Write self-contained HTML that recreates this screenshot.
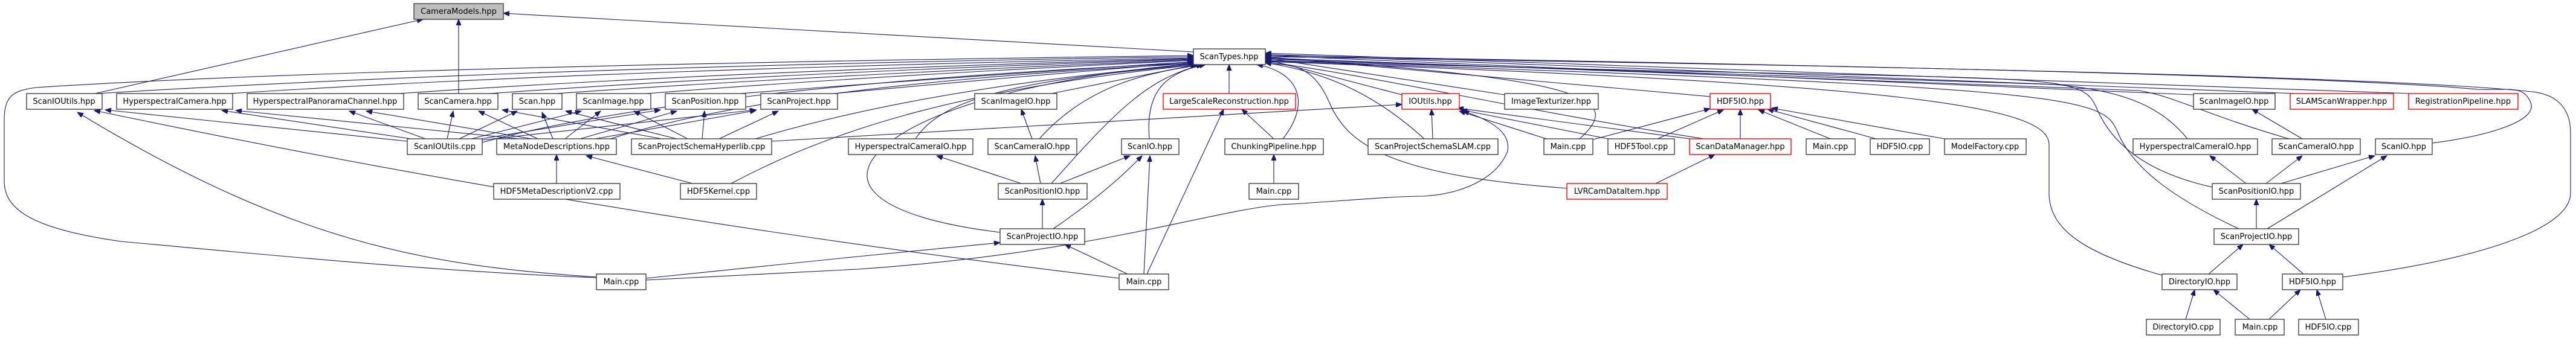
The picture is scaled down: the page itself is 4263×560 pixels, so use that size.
<!DOCTYPE html>
<html><head><meta charset="utf-8"><style>
html,body{margin:0;padding:0;background:#fff;}
svg{display:block;}
.e{fill:none;stroke:#191970;stroke-width:1.1;marker-end:url(#a);}
.n{fill:#fff;stroke:#404040;stroke-width:1.4;}
.r{fill:#fff;stroke:#ff0000;stroke-width:1.4;}
.g{fill:#bfbfbf;stroke:#404040;stroke-width:1.4;}
text{font-family:"DejaVu Sans","Liberation Sans",sans-serif;font-size:13px;fill:#000;text-anchor:middle;}
</style></head><body>
<svg width="4263" height="560" viewBox="0 0 4263 560" xmlns="http://www.w3.org/2000/svg">
<defs><marker id="a" markerUnits="userSpaceOnUse" markerWidth="11" markerHeight="8" refX="10" refY="4" orient="auto"><path d="M0,0 L10,4 L0,8 z" fill="#191970" stroke="#191970"/></marker></defs>
<g>
<path class="e" d="M1975,86 L833,22"/>
<path class="e" d="M157,155 L700,32"/>
<path class="e" d="M759,155 L759,32"/>
<path class="e" d="M160,155 Q900,110 1975,94"/>
<path class="e" d="M380,155 Q1000,115 1975,96"/>
<path class="e" d="M660,155 Q1200,118 1975,97"/>
<path class="e" d="M810,155 Q1300,120 1975,98"/>
<path class="e" d="M920,155 Q1350,125 1975,99"/>
<path class="e" d="M1070,155 Q1450,125 1975,100"/>
<path class="e" d="M1225,155 Q1550,130 1975,102"/>
<path class="e" d="M1380,155 Q1650,130 1975,103"/>
<path class="e" d="M1740,155 L1980,107"/>
<path class="e" d="M798,236 C1000,180 1400,130 1978,104"/>
<path class="e" d="M1010,230 C1200,170 1500,130 1980,105"/>
<path class="e" d="M1250,230 C1450,170 1700,130 1982,106"/>
<path class="e" d="M1210,304 C1350,230 1550,150 1985,107"/>
<path class="e" d="M1515,230 C1560,160 1700,130 1988,107"/>
<path class="e" d="M1720,230 C1800,140 1900,120 1992,107"/>
<path class="e" d="M1902,230 C1895,150 1930,120 1995,107"/>
<path class="e" d="M1740,304 C1850,180 1900,130 1990,107"/>
<path class="e" d="M1655,385 C1450,360 1380,300 1480,230 S1800,120 1980,105"/>
<path class="e" d="M987,460 C720,450 420,420 200,400 C60,380 7,350 7,300 L7,200 C7,160 20,150 60,145 Q600,110 1975,92"/>
<path class="e" d="M2034,155 L2034,107"/>
<path class="e" d="M2123,230 C2170,170 2150,120 2080,107"/>
<path class="e" d="M2357,230 C2280,160 2200,120 2094,104"/>
<path class="e" d="M2320,157 L2094,98"/>
<path class="e" d="M2490,157 L2094,96"/>
<path class="e" d="M2614,230 C2680,170 2660,130 2094,96"/>
<path class="e" d="M2593,312 C2300,290 2230,240 2200,170 S2130,110 2094,104"/>
<path class="e" d="M2830,160 L2094,94"/>
<path class="e" d="M2820,230 C2500,180 2300,130 2094,102"/>
<path class="e" d="M3630,157 L2094,92"/>
<path class="e" d="M3800,155 L2094,90"/>
<path class="e" d="M3990,155 L2094,88"/>
<path class="e" d="M3620,230 C3580,180 3520,150 3400,140 L2094,98"/>
<path class="e" d="M3788,230 C3650,190 3600,160 3540,150 L2094,96"/>
<path class="e" d="M3661,310 C3570,290 3500,250 3470,180 S3400,140 2094,100"/>
<path class="e" d="M3705,379 C3600,330 3530,280 3505,220 S3450,145 2094,101"/>
<path class="e" d="M3578,456 C3450,420 3391,380 3391,320 L3391,240 C3391,180 3200,140 2094,102"/>
<path class="e" d="M3877,459 C4100,430 4254,380 4254,320 L4254,220 C4254,170 4220,155 4190,152 Q3900,120 2094,94"/>
<path class="e" d="M4025,237 C4120,225 4200,200 4188,170 S4150,150 4100,148 Q3800,120 2094,92"/>
<path class="e" d="M674,234 L174,182"/>
<path class="e" d="M680,230 L367,183"/>
<path class="e" d="M704,230 L578,184"/>
<path class="e" d="M740,230 L750,184"/>
<path class="e" d="M760,230 L856,184"/>
<path class="e" d="M780,230 L962,184"/>
<path class="e" d="M790,231 L1093,182"/>
<path class="e" d="M798,232 L1251,182"/>
<path class="e" d="M860,230 L390,183"/>
<path class="e" d="M880,230 L606,184"/>
<path class="e" d="M890,230 L792,184"/>
<path class="e" d="M915,230 L897,186"/>
<path class="e" d="M935,230 L994,184"/>
<path class="e" d="M960,230 L1120,184"/>
<path class="e" d="M985,230 L1251,183"/>
<path class="e" d="M1095,230 L831,182"/>
<path class="e" d="M1120,230 L936,184"/>
<path class="e" d="M1138,230 L1049,184"/>
<path class="e" d="M1162,230 L1166,184"/>
<path class="e" d="M1190,230 L1288,184"/>
<path class="e" d="M921,304 L921,256"/>
<path class="e" d="M1146,304 L970,258"/>
<path class="e" d="M1708,230 L1690,181"/>
<path class="e" d="M1690,304 L1550,258"/>
<path class="e" d="M1722,304 L1713,258"/>
<path class="e" d="M1754,304 L1870,258"/>
<path class="e" d="M1725,379 L1725,330"/>
<path class="e" d="M1743,379 C1800,340 1850,300 1890,258"/>
<path class="e" d="M1866,454 L1762,405"/>
<path class="e" d="M1893,454 L1903,258"/>
<path class="e" d="M1898,454 L2025,181"/>
<path class="e" d="M1852,461 Q1000,360 156,183"/>
<path class="e" d="M987,459 C700,440 480,400 128,186"/>
<path class="e" d="M1069,461 L1420,425 L1655,402"/>
<path class="e" d="M1069,464 L1420,446 C1800,420 2000,350 2120,339 C2200,335 2300,325 2357,325 C2430,320 2480,290 2495,250 C2500,220 2470,200 2421,184"/>
<path class="e" d="M1277,234 L2320,173"/>
<path class="e" d="M2108,230 L2055,181"/>
<path class="e" d="M2108,304 L2108,256"/>
<path class="e" d="M2371,230 L2369,181"/>
<path class="e" d="M2559,230 L2415,184"/>
<path class="e" d="M2661,230 L2418,182"/>
<path class="e" d="M2796,230 L2412,179"/>
<path class="e" d="M2637,231 L2830,180"/>
<path class="e" d="M2743,230 L2852,182"/>
<path class="e" d="M2880,230 L2880,181"/>
<path class="e" d="M3029,230 L2910,182"/>
<path class="e" d="M3105,230 L2925,181"/>
<path class="e" d="M3218,230 L2932,179"/>
<path class="e" d="M2740,304 L2838,256"/>
<path class="e" d="M3810,230 L3727,181"/>
<path class="e" d="M3717,304 L3657,258"/>
<path class="e" d="M3750,304 L3810,258"/>
<path class="e" d="M3775,304 L3930,258"/>
<path class="e" d="M3734,379 L3734,330"/>
<path class="e" d="M3752,379 L3950,258"/>
<path class="e" d="M3655,454 L3712,405"/>
<path class="e" d="M3812,454 L3755,405"/>
<path class="e" d="M3617,529 L3632,480"/>
<path class="e" d="M3723,529 L3663,480"/>
<path class="e" d="M3755,529 L3807,480"/>
<path class="e" d="M3849,529 L3834,480"/>
</g>
<g>
<rect class="g" x="685" y="6" width="148" height="26"/><text x="759" y="23">CameraModels.hpp</text>
<rect class="n" x="1975" y="81" width="119" height="26"/><text x="2034" y="98">ScanTypes.hpp</text>
<rect class="n" x="44" y="155" width="125" height="26"/><text x="106" y="172">ScanIOUtils.hpp</text>
<rect class="n" x="193" y="155" width="192" height="26"/><text x="289" y="172">HyperspectralCamera.hpp</text>
<rect class="n" x="409" y="155" width="259" height="26"/><text x="538" y="172">HyperspectralPanoramaChannel.hpp</text>
<rect class="n" x="692" y="155" width="132" height="26"/><text x="758" y="172">ScanCamera.hpp</text>
<rect class="n" x="848" y="155" width="82" height="26"/><text x="889" y="172">Scan.hpp</text>
<rect class="n" x="954" y="155" width="123" height="26"/><text x="1015" y="172">ScanImage.hpp</text>
<rect class="n" x="1101" y="155" width="133" height="26"/><text x="1167" y="172">ScanPosition.hpp</text>
<rect class="n" x="1259" y="155" width="127" height="26"/><text x="1322" y="172">ScanProject.hpp</text>
<rect class="n" x="1613" y="155" width="136" height="26"/><text x="1681" y="172">ScanImageIO.hpp</text>
<rect class="r" x="1925" y="155" width="219" height="26"/><text x="2034" y="172">LargeScaleReconstruction.hpp</text>
<rect class="r" x="2320" y="155" width="95" height="26"/><text x="2367" y="172">IOUtils.hpp</text>
<rect class="n" x="2490" y="155" width="155" height="26"/><text x="2567" y="172">ImageTexturizer.hpp</text>
<rect class="r" x="2830" y="155" width="100" height="26"/><text x="2880" y="172">HDF5IO.hpp</text>
<rect class="n" x="3630" y="155" width="135" height="26"/><text x="3697" y="172">ScanImageIO.hpp</text>
<rect class="r" x="3790" y="155" width="171" height="26"/><text x="3875" y="172">SLAMScanWrapper.hpp</text>
<rect class="r" x="3986" y="155" width="181" height="26"/><text x="4076" y="172">RegistrationPipeline.hpp</text>
<rect class="n" x="674" y="230" width="124" height="26"/><text x="736" y="247">ScanIOUtils.cpp</text>
<rect class="n" x="822" y="230" width="198" height="26"/><text x="921" y="247">MetaNodeDescriptions.hpp</text>
<rect class="n" x="1045" y="230" width="232" height="26"/><text x="1161" y="247">ScanProjectSchemaHyperlib.cpp</text>
<rect class="n" x="1404" y="230" width="206" height="26"/><text x="1507" y="247">HyperspectralCameraIO.hpp</text>
<rect class="n" x="1635" y="230" width="147" height="26"/><text x="1708" y="247">ScanCameraIO.hpp</text>
<rect class="n" x="1856" y="230" width="95" height="26"/><text x="1903" y="247">ScanIO.hpp</text>
<rect class="n" x="2027" y="230" width="163" height="26"/><text x="2108" y="247">ChunkingPipeline.hpp</text>
<rect class="n" x="2264" y="230" width="215" height="26"/><text x="2371" y="247">ScanProjectSchemaSLAM.cpp</text>
<rect class="n" x="2555" y="230" width="81" height="26"/><text x="2595" y="247">Main.cpp</text>
<rect class="n" x="2661" y="230" width="110" height="26"/><text x="2716" y="247">HDF5Tool.cpp</text>
<rect class="r" x="2796" y="230" width="168" height="26"/><text x="2880" y="247">ScanDataManager.hpp</text>
<rect class="n" x="2989" y="230" width="81" height="26"/><text x="3029" y="247">Main.cpp</text>
<rect class="n" x="3095" y="230" width="98" height="26"/><text x="3144" y="247">HDF5IO.cpp</text>
<rect class="n" x="3218" y="230" width="135" height="26"/><text x="3285" y="247">ModelFactory.cpp</text>
<rect class="n" x="3530" y="230" width="206" height="26"/><text x="3633" y="247">HyperspectralCameraIO.hpp</text>
<rect class="n" x="3760" y="230" width="146" height="26"/><text x="3833" y="247">ScanCameraIO.hpp</text>
<rect class="n" x="3931" y="230" width="94" height="26"/><text x="3978" y="247">ScanIO.hpp</text>
<rect class="n" x="817" y="304" width="209" height="26"/><text x="921" y="321">HDF5MetaDescriptionV2.cpp</text>
<rect class="n" x="1126" y="304" width="126" height="26"/><text x="1189" y="321">HDF5Kernel.cpp</text>
<rect class="n" x="1652" y="304" width="147" height="26"/><text x="1725" y="321">ScanPositionIO.hpp</text>
<rect class="n" x="2067" y="304" width="82" height="26"/><text x="2108" y="321">Main.cpp</text>
<rect class="r" x="2593" y="304" width="166" height="26"/><text x="2676" y="321">LVRCamDataItem.hpp</text>
<rect class="n" x="3661" y="304" width="146" height="26"/><text x="3734" y="321">ScanPositionIO.hpp</text>
<rect class="n" x="1655" y="379" width="140" height="26"/><text x="1725" y="396">ScanProjectIO.hpp</text>
<rect class="n" x="3664" y="379" width="140" height="26"/><text x="3734" y="396">ScanProjectIO.hpp</text>
<rect class="n" x="987" y="454" width="82" height="26"/><text x="1028" y="471">Main.cpp</text>
<rect class="n" x="1852" y="454" width="82" height="26"/><text x="1893" y="471">Main.cpp</text>
<rect class="n" x="3578" y="454" width="124" height="26"/><text x="3640" y="471">DirectoryIO.hpp</text>
<rect class="n" x="3777" y="454" width="100" height="26"/><text x="3827" y="471">HDF5IO.hpp</text>
<rect class="n" x="3552" y="529" width="122" height="26"/><text x="3613" y="546">DirectoryIO.cpp</text>
<rect class="n" x="3699" y="529" width="81" height="26"/><text x="3740" y="546">Main.cpp</text>
<rect class="n" x="3804" y="529" width="99" height="26"/><text x="3853" y="546">HDF5IO.cpp</text>
</g>
</svg>
</body></html>
